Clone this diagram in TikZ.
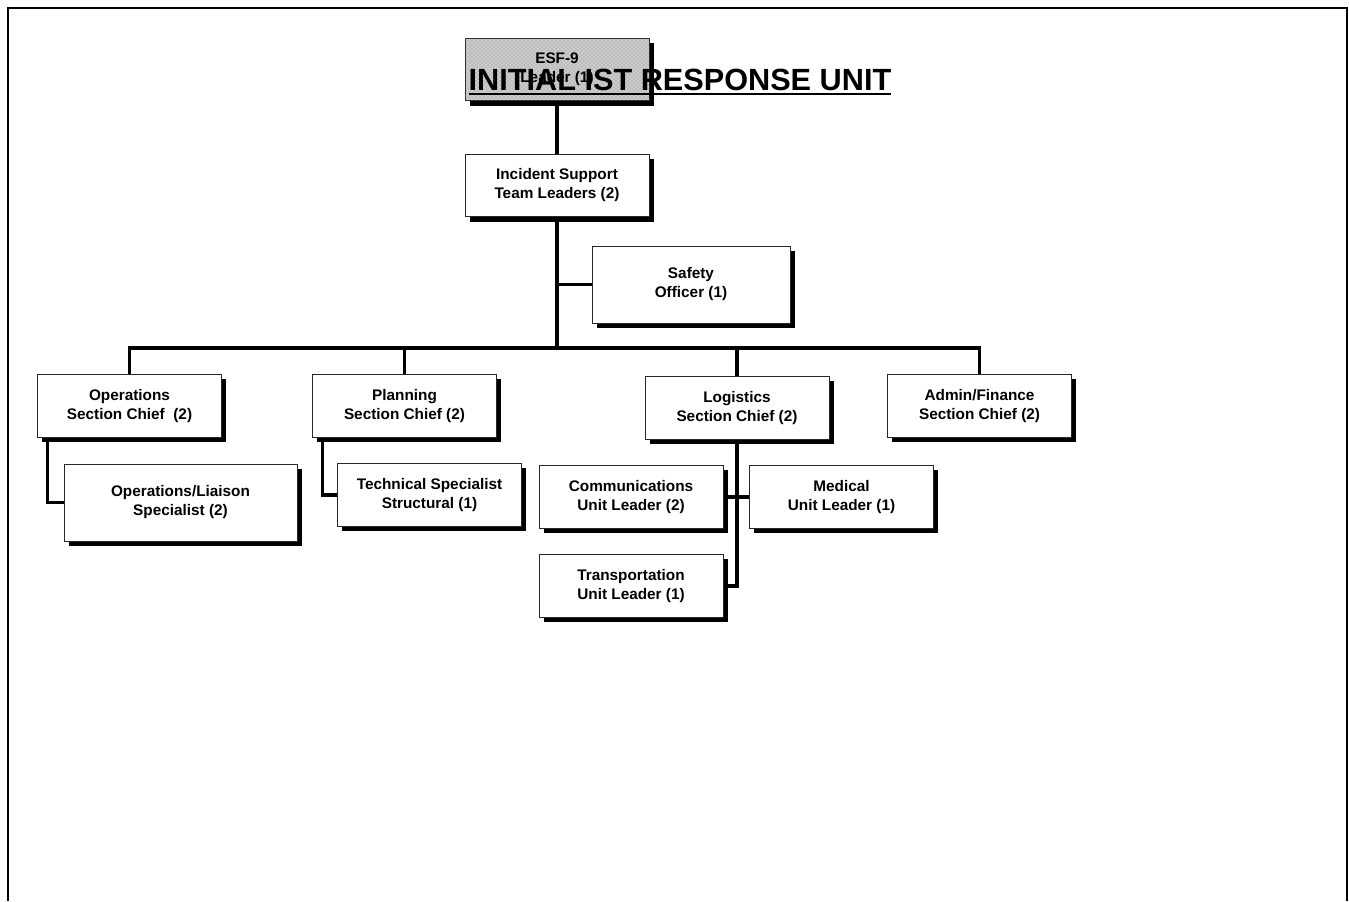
\documentclass[tikz,border=0pt]{standalone}
\usepackage{fontspec}
\setmainfont{Liberation Sans}
\usepackage{xcolor}
\definecolor{boxline}{RGB}{40,40,40}
\definecolor{esfgray}{RGB}{205,205,205}
\usetikzlibrary{shadows,patterns,backgrounds}
\newcommand{\thickul}[1]{\setbox0=\hbox{#1}\leavevmode\rlap{\copy0}\rule[-4pt]{\wd0}{1.6pt}}

\begin{document}
\begin{tikzpicture}[x=0.75pt,y=-0.75pt,
                unitbox/.style={draw=boxline, line width=0.6pt, fill=white, align=center,
                    minimum width=138pt, minimum height=47pt, inner sep=0pt,
                    font=\bfseries\fontsize{11.5}{14.25}\selectfont,
                    drop shadow={shadow xshift=3.6pt, shadow yshift=-3.6pt, fill=black, opacity=1}},
                tallbox/.style={unitbox, minimum height=57.75pt},
                esfbox/.style={unitbox, fill=esfgray, postaction={pattern=crosshatch dots, pattern color=gray}},
                link/.style={line width=2.3pt, line cap=rect}
            ]
                \useasboundingbox (0,0) rectangle (1349,901);
                \draw[line width=1.6pt] (8,901) -- (8,8) -- (1347,8) -- (1347,901);

                \node [esfbox] (esf) at (557,69.5) {ESF-9\\Leader (1)};
                \node [unitbox] (istl) at (557,185.5) {Incident Support\\Team Leaders (2)};
                \node [tallbox, minimum width=148.5pt] (safety) at (691,284.5) {Safety\\Officer (1)};

                \node [unitbox] (ops) at (129.5,406) {Operations\\Section Chief~ (2)};
                \node [unitbox] (plan) at (404.5,406) {Planning\\Section Chief (2)};
                \node [unitbox] (log) at (737,408) {Logistics\\Section Chief (2)};
                \node [unitbox] (admin) at (979.5,406) {Admin/Finance\\Section Chief (2)};

                \node [tallbox, minimum width=174.75pt] (liaison) at (180.5,502.5) {Operations/Liaison\\Specialist (2)};
                \node [unitbox] (tech) at (429.5,495) {Technical Specialist\\Structural (1)};
                \node [unitbox] (comm) at (631,497) {Communications\\Unit Leader (2)};
                \node [unitbox] (med) at (841.5,497) {Medical\\Unit Leader (1)};
                \node [unitbox] (trans) at (631,586) {Transportation\\Unit Leader (1)};

                \node [anchor=base west, font=\bfseries\fontsize{23}{26}\selectfont] (title) at (464,90) {\thickul{INITIAL IST RESPONSE UNIT}};

                \coordinate (bus) at (557,348);
                \begin{scope}[on background layer]
                    \draw[link] (esf.south) -- (istl.north);
                    \draw[link] (istl.south) -- (bus);
                    \draw[link] (safety.west) -- (safety.west -| bus);
                    \draw[link] (ops.north) |- (bus) -| (admin.north);
                    \draw[link] (plan.north) -- (plan.north |- bus);
                    \draw[link] (log.north) -- (log.north |- bus);
                    \draw[link] ([shift={(10,0)}]ops.south west) |- (liaison.west);
                    \draw[link] ([shift={(10,0)}]plan.south west) |- (tech.west);
                    \draw[link] (log.south) |- (trans.east);
                    \draw[link] (comm.east) -- (med.west);
                \end{scope}
            \end{tikzpicture}
\end{document}
